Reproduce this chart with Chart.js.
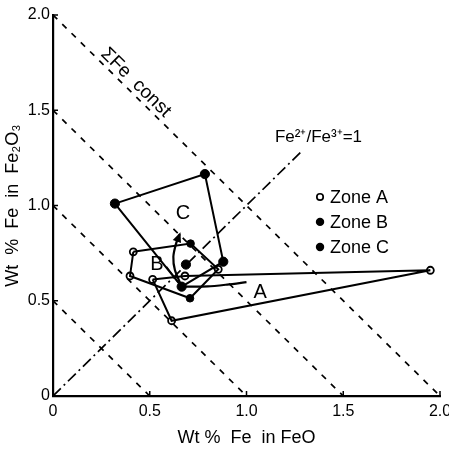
<!DOCTYPE html>
<html>
<head>
<meta charset="utf-8">
<script src="https://cdn.jsdelivr.net/npm/chart.js@4/dist/chart.umd.min.js"></script>
<style>
  html, body { margin: 0; padding: 0; background: #fff; }
  #wrap { width: 449px; height: 452px; }
</style>
</head>
<body>
<div id="wrap"><canvas id="chart"></canvas></div>
<script>
// ticks
const tickValues = [0, 0.5, 1, 1.5, 2];
const tickLabels = ["0", "0.5", "1.0", "1.5", "2.0"];

// sum Fe = const lines (x + y = c) and the Fe2+/Fe3+ = 1 line
const sumFeLevels = [0.5, 1.0, 1.5, 2.0];
const ratioLine = [[0, 0], [1.29, 1.29]];

// zone outlines, [FeO, Fe2O3]
const zoneAOutline = [[0.515, 0.612], [0.682, 0.63], [1.95, 0.66], [0.613, 0.395], [0.515, 0.612]];
const zoneBOutline = [[0.415, 0.757], [0.711, 0.80], [0.854, 0.665], [0.708, 0.513], [0.398, 0.63], [0.415, 0.757]];
const zoneCOutline = [[0.32, 1.01], [0.785, 1.165], [0.88, 0.705], [0.665, 0.574], [0.32, 1.01]];

// analyses
const zoneAPoints = [[0.415, 0.757], [0.398, 0.63], [0.515, 0.612], [0.682, 0.63], [0.613, 0.395], [1.95, 0.66], [0.854, 0.665]];
const zoneBPoints = [[0.711, 0.80], [0.708, 0.513]];
const zoneCPoints = [[0.32, 1.01], [0.785, 1.165], [0.88, 0.705], [0.687, 0.69], [0.665, 0.574]];

// trend arrows
const arrowC = [[0.665, 0.574], [0.63, 0.661], [0.622, 0.731], [0.636, 0.80], [0.655, 0.85]];
const arrowA = [[0.665, 0.574], [0.80, 0.575], [0.90, 0.585], [1.0, 0.598]];
const stemB = [[0.586, 0.678], [0.665, 0.574]];

const pts = (arr) => arr.map((p) => ({ x: p[0], y: p[1] }));
const FONT = "Liberation Sans";

const lineSet = (data, extra) =>
  Object.assign(
    {
      data: pts(data),
      showLine: true,
      borderColor: "#000",
      borderWidth: 2,
      pointRadius: 0,
      fill: false,
      tension: 0,
    },
    extra || {}
  );

const datasets = [];
sumFeLevels.forEach((c) => {
  datasets.push(lineSet([[0, c], [c, 0]], { borderWidth: 1.7, borderDash: [6, 7] }));
});
datasets.push(lineSet(ratioLine, { borderWidth: 1.7, borderDash: [11, 4, 2, 4] }));
datasets.push(lineSet(zoneAOutline));
datasets.push(lineSet(zoneBOutline));
datasets.push(lineSet(zoneCOutline));
datasets.push(lineSet(arrowC, { tension: 0.25, borderWidth: 2.2 }));
datasets.push(lineSet(arrowA, { tension: 0.25, borderWidth: 2.2 }));
datasets.push(lineSet(stemB, { borderWidth: 1.6 }));
datasets.push({
  data: pts(zoneAPoints),
  pointRadius: 3.5,
  pointBorderWidth: 1.8,
  pointBackgroundColor: "#fff",
  pointBorderColor: "#000",
});
datasets.push({
  data: pts(zoneBPoints),
  pointRadius: 3.8,
  pointBackgroundColor: "#000",
  pointBorderColor: "#000",
});
datasets.push({
  data: pts(zoneCPoints),
  pointRadius: 4.6,
  pointBackgroundColor: "#000",
  pointBorderColor: "#000",
});

// text, tick marks and arrow heads drawn on top
const extras = {
  id: "extras",
  afterDraw(chart) {
    const ctx = chart.ctx;
    const xs = chart.scales.x;
    const ys = chart.scales.y;
    const px = (v) => xs.getPixelForValue(v);
    const py = (v) => ys.getPixelForValue(v);
    ctx.save();
    ctx.fillStyle = "#000";
    ctx.strokeStyle = "#000";

    // inner tick marks
    ctx.lineWidth = 1.5;
    tickValues.forEach((v) => {
      if (v === 0) return;
      ctx.beginPath();
      ctx.moveTo(px(v), py(0));
      ctx.lineTo(px(v), py(0) - 5);
      ctx.moveTo(px(0), py(v));
      ctx.lineTo(px(0) + 5, py(v));
      ctx.stroke();
    });

    // arrow head on the zone C trend
    const head = (line, size) => {
      const a = line[line.length - 2];
      const b = line[line.length - 1];
      const ang = Math.atan2(py(b[1]) - py(a[1]), px(b[0]) - px(a[0]));
      ctx.save();
      ctx.translate(px(b[0]), py(b[1]));
      ctx.rotate(ang);
      ctx.beginPath();
      ctx.moveTo(2, 0);
      ctx.lineTo(-size, -size * 0.55);
      ctx.lineTo(-size, size * 0.55);
      ctx.closePath();
      ctx.fill();
      ctx.restore();
    };
    head(arrowC, 8);

    ctx.textBaseline = "middle";
    ctx.textAlign = "center";
    ctx.font = `20px ${FONT}`;
    ctx.fillText("C", px(0.672), py(0.96));
    ctx.fillText("B", px(0.537), py(0.688));
    ctx.fillText("A", px(1.07), py(0.546));

    // sum Fe label along the 2.0 line
    ctx.save();
    ctx.translate(px(0.428), py(1.645));
    ctx.rotate(Math.atan2(py(0) - py(1), px(1) - px(0)));
    ctx.font = `19px ${FONT}`;
    ctx.fillText("ΣFe  const", 0, 0);
    ctx.restore();

    ctx.textAlign = "left";
    ctx.font = `17px ${FONT}`;
    ctx.fillText("Fe²⁺/Fe³⁺=1", px(1.147), py(1.36));

    // legend
    const rows = [
      ["Zone A", 1.045, "open"],
      ["Zone B", 0.914, "fill"],
      ["Zone C", 0.782, "fill"],
    ];
    ctx.font = `18px ${FONT}`;
    rows.forEach((r) => {
      const y = py(r[1]);
      ctx.beginPath();
      if (r[2] === "open") {
        ctx.arc(px(1.38), y, 3.2, 0, Math.PI * 2);
        ctx.lineWidth = 1.7;
        ctx.fillStyle = "#fff";
        ctx.fill();
        ctx.stroke();
        ctx.fillStyle = "#000";
      } else {
        ctx.arc(px(1.38), y, 4.2, 0, Math.PI * 2);
        ctx.fill();
      }
      ctx.fillText(r[0], px(1.431), y + 1);
    });
    ctx.restore();
  },
};

new Chart(document.getElementById("chart"), {
  type: "scatter",
  data: { datasets: datasets },
  options: {
    responsive: true,
    maintainAspectRatio: false,
    animation: false,
    layout: { padding: { left: 0, right: 9, top: 15, bottom: 0 } },
    plugins: {
      legend: { display: false },
      tooltip: { enabled: false },
    },
    scales: {
      x: {
        type: "linear",
        min: 0,
        max: 2,
        grid: { display: false, drawTicks: false },
        border: { display: true, color: "#000", width: 2.2 },
        ticks: {
          stepSize: 0.5,
          color: "#000",
          font: { family: FONT, size: 16 },
          padding: 6,
          maxRotation: 0,
          callback: (v) => tickLabels[tickValues.indexOf(v)],
        },
        title: {
          display: true,
          text: "Wt %  Fe  in FeO",
          color: "#000",
          font: { family: FONT, size: 18 },
          padding: { top: 0, bottom: 3 },
        },
        afterFit: (s) => {
          s.height = 56;
          s.paddingLeft = 0;
          s.paddingRight = 0;
        },
      },
      y: {
        type: "linear",
        min: 0,
        max: 2,
        grid: { display: false, drawTicks: false },
        border: { display: true, color: "#000", width: 2.2 },
        ticks: {
          stepSize: 0.5,
          color: "#000",
          font: { family: FONT, size: 16 },
          padding: 3,
          callback: (v) => tickLabels[tickValues.indexOf(v)],
        },
        title: {
          display: true,
          text: "Wt  %  Fe  in  Fe₂O₃",
          color: "#000",
          font: { family: FONT, size: 18 },
          padding: { top: 2, bottom: 0 },
        },
        afterFit: (s) => {
          s.width = 53;
          s.paddingTop = 0;
          s.paddingBottom = 0;
        },
      },
    },
  },
  plugins: [extras],
});
</script>
</body>
</html>
